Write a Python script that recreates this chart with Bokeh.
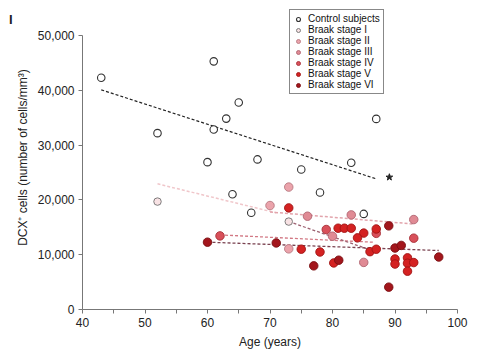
from bokeh.plotting import figure
from bokeh.models import Range1d, NumeralTickFormatter, FixedTicker, Legend, LegendItem, LinearAxis
from bokeh.embed import file_html
from bokeh.resources import INLINE

# ---- data ----
ctrl_age = [43, 52, 60, 61, 61, 63, 64, 65, 67, 68, 75, 78, 83, 85, 87]
ctrl_dcx = [42300, 32200, 26900, 45300, 32850, 34850, 21050, 37800, 17650, 27400, 25550, 21350, 26800, 17450, 34800]

b1_age = [52, 73]
b1_dcx = [19700, 16050]

b2_age = [70, 73, 73]
b2_dcx = [18980, 22350, 11070]

b3_age = [76, 83, 93, 80, 85]
b3_dcx = [17030, 17275, 16420, 13380, 8600]

b4_age = [62, 79, 87, 93]
b4_dcx = [13440, 14600, 13900, 13020]

b5_age = [73, 80.9, 81.9, 83, 85, 84, 87, 75, 78, 86, 87, 80.2, 90, 90, 92, 92, 93, 92]
b5_dcx = [18550, 14840, 14840, 14840, 13950, 13080, 14700, 11010, 10500, 10560, 11000, 8500, 9220, 8300, 9430, 8450, 8570, 6990]

b6_age = [60, 71, 89, 90, 91, 97, 77, 81, 89]
b6_dcx = [12290, 12150, 15270, 11220, 11700, 9580, 7970, 9000, 4080]

# fitted trend lines (end points)
fit_ctrl_age = [43, 87];  fit_ctrl_dcx = [40100, 23850]
fit_b1_age = [52, 71];    fit_b1_dcx = [22940, 17650]
fit_b3_age = [70, 93];    fit_b3_dcx = [17800, 15600]
fit_b4_age = [62, 86.6];  fit_b4_dcx = [13620, 12280]
fit_b5_age = [73, 86.5];  fit_b5_dcx = [16050, 10700]
fit_b6_age = [60, 97];    fit_b6_dcx = [12290, 10770]

star_age = [89.1]; star_dcx = [24150]

x_ticks = [40, 50, 60, 70, 80, 90, 100]
x_minor = [45, 55, 65, 75, 85, 95]
y_ticks = [0, 10000, 20000, 30000, 40000, 50000]

FONT = "Liberation Sans"

p = figure(width=500, height=352, output_backend="svg", toolbar_location=None,
           x_range=Range1d(40, 100), y_range=Range1d(0, 55500),
           min_border_left=82, min_border_right=43, min_border_top=5, min_border_bottom=43)
p.grid.visible = False
p.outline_line_color = None
p.background_fill_color = "white"

# axes
for ax in (p.xaxis[0], p.yaxis[0]):
    ax.axis_line_color = "#777777"
    ax.major_tick_line_color = "#777777"
    ax.minor_tick_line_color = "#777777"
    ax.major_tick_in = 0
    ax.major_tick_out = 4
    ax.minor_tick_in = 0
    ax.minor_tick_out = 4
    ax.major_label_text_font = FONT
    ax.major_label_text_font_size = "12px"
    ax.major_label_text_color = "#222222"
    ax.axis_label_text_font = FONT
    ax.axis_label_text_font_size = "12px"
    ax.axis_label_text_font_style = "normal"
    ax.axis_label_text_color = "#222222"
    ax.major_label_standoff = 4
    ax.axis_label_standoff = 5

p.xaxis.ticker = FixedTicker(ticks=x_ticks, minor_ticks=x_minor)
p.xaxis.bounds = (40, 100)
p.xaxis.axis_label = "Age (years)"
p.yaxis.ticker = FixedTicker(ticks=y_ticks, minor_ticks=[])
p.yaxis.bounds = (0, 50000)
p.yaxis.formatter = NumeralTickFormatter(format="0,0")
p.yaxis.axis_label = "DCX\u207a cells (number of cells/mm\u00b3)"

# panel letter "I": a bare outer axis whose single tick label is the letter
panel_pos = 52855
panel_axis = LinearAxis(ticker=FixedTicker(ticks=[panel_pos], minor_ticks=[]),
                        major_label_overrides={panel_pos: "I"},
                        axis_line_color=None, major_tick_line_color=None, minor_tick_line_color=None,
                        major_tick_out=0, major_tick_in=0, major_label_standoff=0,
                        major_label_text_font=FONT, major_label_text_font_style="bold",
                        major_label_text_font_size="13px", major_label_text_color="#222222")
p.add_layout(panel_axis, "left")

# trend lines
p.line(fit_ctrl_age, fit_ctrl_dcx, line_color="#222222", line_dash="3 2", line_width=1.2)
p.line(fit_b1_age, fit_b1_dcx, line_color="#f0c6ca", line_dash="3 2", line_width=1.5)
p.line(fit_b3_age, fit_b3_dcx, line_color="#e2a4ac", line_dash="3 2", line_width=1.5)
p.line(fit_b4_age, fit_b4_dcx, line_color="#d27884", line_dash="3 2", line_width=1.3)
p.line(fit_b5_age, fit_b5_dcx, line_color="#9c6070", line_dash="3 2", line_width=1.3)
p.line(fit_b6_age, fit_b6_dcx, line_color="#7a4250", line_dash="3 2", line_width=1.3)

# points
styles = [
    ("Control subjects", ctrl_age, ctrl_dcx, "white", "#333333", 7.5, 1.1),
    ("Braak stage I", b1_age, b1_dcx, "#f8e2e4", "#707070", 7.5, 0.9),
    ("Braak stage II", b2_age, b2_dcx, "#eba3ab", "#b87880", 8.5, 0.9),
    ("Braak stage III", b3_age, b3_dcx, "#e08a94", "#b06470", 8.5, 0.9),
    ("Braak stage IV", b4_age, b4_dcx, "#d8505a", "#a83038", 8.5, 0.9),
    ("Braak stage V", b5_age, b5_dcx, "#d42222", "#a01414", 8.5, 0.9),
    ("Braak stage VI", b6_age, b6_dcx, "#a3161c", "#7a0e12", 8.5, 0.9),
]
items = []
for name, xs, ys, fill, line, size, lw in styles:
    r = p.scatter(xs, ys, marker="circle", size=size, fill_color=fill, line_color=line, line_width=lw)
    items.append(LegendItem(label=name, renderers=[r]))

p.scatter(star_age, star_dcx, marker="star", size=7, fill_color="#222222", line_color="#222222")

legend = Legend(items=items, location=(207, 215), margin=0, padding=3, spacing=0,
                label_height=10, glyph_height=10, glyph_width=10, label_standoff=5,
                label_text_font=FONT, label_text_font_size="10px", label_text_line_height=1.0,
                label_text_color="#111111",
                border_line_color="#111111", border_line_width=1, background_fill_alpha=1)
p.add_layout(legend)

open("out.html", "w").write(file_html(p, INLINE))
